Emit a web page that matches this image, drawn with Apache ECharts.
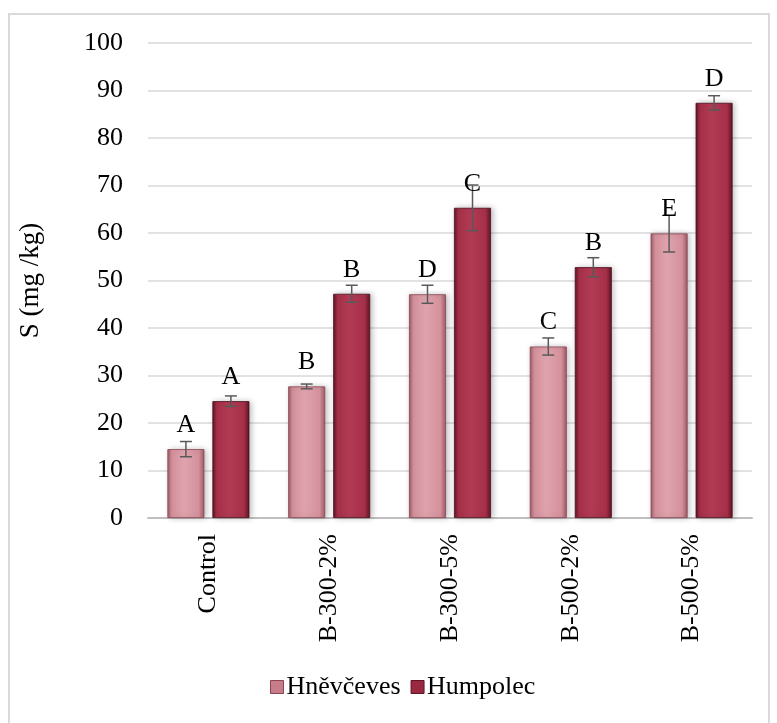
<!DOCTYPE html>
<html>
<head>
<meta charset="utf-8">
<script src="https://cdn.jsdelivr.net/npm/echarts@6/dist/echarts.min.js"></script>
<style>
    html, body { margin: 0; padding: 0; background: #fff; }
    #frame { position: absolute; left: 8px; top: 13px; width: 762px; height: 720px; border: 2px solid #d9d9d9; box-sizing: border-box; }
    #chart { position: absolute; left: 0; top: 0; width: 777px; height: 723px; }
</style>
</head>
<body>
<div id="frame"></div>
<div id="chart"></div>
<script>
    // data
    var categories = ['Control', 'B-300-2%', 'B-300-5%', 'B-500-2%', 'B-500-5%'];
    var hnevceves = [14.5, 27.7, 47.1, 36.1, 59.9];
    var hnevcevesErr = [1.6, 0.5, 1.9, 1.8, 3.9];
    var hnevcevesLetters = ['A', 'B', 'D', 'C', 'E'];
    var humpolec = [24.6, 47.2, 65.3, 52.8, 87.4];
    var humpolecErr = [1.1, 1.8, 4.8, 2.0, 1.5];
    var humpolecLetters = ['A', 'B', 'C', 'B', 'D'];
    var yTicks = [0, 10, 20, 30, 40, 50, 60, 70, 80, 90, 100];

    var serif = '"Liberation Serif", "DejaVu Serif", serif';
    var barW = 37;
    var barGap = 8;

    function grad(edge, mid, light) {
        return new echarts.graphic.LinearGradient(0, 0, 1, 0, [
            {offset: 0, color: edge},
            {offset: 0.12, color: mid},
            {offset: 0.45, color: light},
            {offset: 0.85, color: mid},
            {offset: 1, color: edge}
        ]);
    }

    var colHn = grad('#9c5a66', '#d4919c', '#dfa3ad');
    var colHu = grad('#5e1424', '#a63049', '#b23b54');

    function errSeries(vals, errs, letters, side) {
        var data = vals.map(function (v, i) { return [i, v, errs[i], letters[i]]; });
        return {
            type: 'custom',
            z: 10,
            data: data,
            renderItem: function (params, api) {
                var c = api.coord([api.value(0), api.value(1)]);
                var off = side * (barW + barGap) / 2;
                var x = c[0] + off;
                var top = api.coord([api.value(0), api.value(1) + api.value(2)])[1];
                var bot = api.coord([api.value(0), api.value(1) - api.value(2)])[1];
                var st = {stroke: '#595959', lineWidth: 1.5};
                return {
                    type: 'group',
                    children: [
                        {type: 'line', shape: {x1: x, y1: top, x2: x, y2: bot}, style: st},
                        {type: 'line', shape: {x1: x - 6, y1: top, x2: x + 6, y2: top}, style: st},
                        {type: 'line', shape: {x1: x - 6, y1: bot, x2: x + 6, y2: bot}, style: st},
                        {type: 'text', x: x, y: c[1] - 11, style: {
                            text: data[params.dataIndex][3], fill: '#000',
                            font: '26px ' + serif, align: 'center', verticalAlign: 'bottom'
                        }}
                    ]
                };
            }
        };
    }

    var chart = echarts.init(document.getElementById('chart'));
    var option = {
        animation: false,
        grid: {left: 148, right: 25, top: 43, bottom: 205},
        legend: {
            bottom: 18,
            left: 265,
            itemWidth: 13,
            itemHeight: 13,
            itemGap: 10,
            icon: 'rect',
            textStyle: {fontFamily: serif, fontSize: 26, color: '#000', padding: [0, 0, 0, -2]},
            data: [
                {name: 'Hněvčeves', itemStyle: {color: '#c77c89', borderColor: '#8a4552', borderWidth: 1}},
                {name: 'Humpolec', itemStyle: {color: '#9a2840', borderColor: '#5e1424', borderWidth: 1}}
            ]
        },
        xAxis: {
            type: 'category',
            data: categories,
            axisTick: {show: false},
            axisLine: {lineStyle: {color: '#bfbfbf', width: 2}},
            axisLabel: {
                rotate: 90, interval: 0, margin: 16,
                fontFamily: serif, fontSize: 26, color: '#000'
            }
        },
        yAxis: {
            type: 'value',
            min: 0, max: 100, interval: 10,
            name: 'S (mg /kg)',
            nameLocation: 'middle',
            nameGap: 104,
            nameRotate: 90,
            nameTextStyle: {fontFamily: serif, fontSize: 27, color: '#000'},
            axisLine: {show: false},
            axisTick: {show: false},
            axisLabel: {
                margin: 25, fontFamily: serif, fontSize: 26, color: '#000',
                formatter: function (v) { return yTicks.indexOf(v) >= 0 ? String(v) : ''; }
            },
            splitLine: {lineStyle: {color: '#d9d9d9', width: 1.5}}
        },
        series: [
            {
                name: 'Hněvčeves', type: 'bar', data: hnevceves,
                barWidth: barW, barGap: (barGap / barW * 100) + '%',
                itemStyle: {color: colHn, borderColor: '#8a4552', borderWidth: 0.8,
                    shadowColor: 'rgba(0,0,0,0.25)', shadowBlur: 6, shadowOffsetX: 2}
            },
            {
                name: 'Humpolec', type: 'bar', data: humpolec,
                barWidth: barW,
                itemStyle: {color: colHu, borderColor: '#4a0f1c', borderWidth: 0.8,
                    shadowColor: 'rgba(0,0,0,0.25)', shadowBlur: 6, shadowOffsetX: 2}
            },
            errSeries(hnevceves, hnevcevesErr, hnevcevesLetters, -1),
            errSeries(humpolec, humpolecErr, humpolecLetters, 1)
        ]
    };
    chart.setOption(option);
</script>
</body>
</html>
